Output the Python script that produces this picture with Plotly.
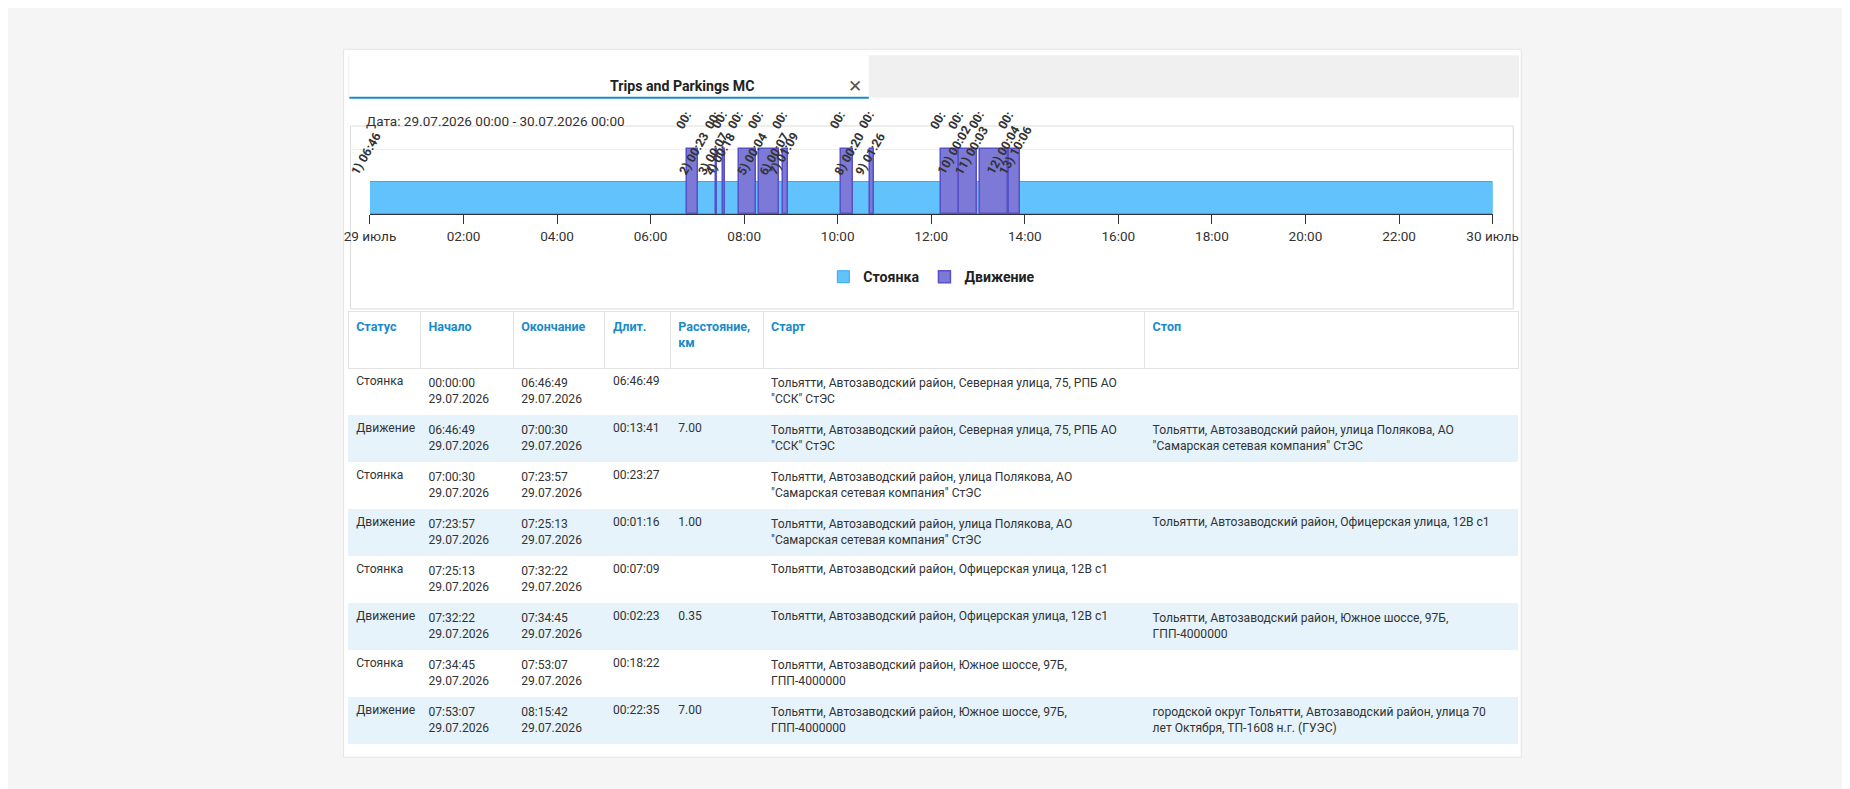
import plotly.graph_objects as go

W, H = 1850, 789
K = 1850 / 1568
def px(x): return x * K / W
def py(y): return 1 - y * K / H
def fs(s): return s * K

def hm(s):
    p = [int(v) for v in s.split(":")]
    return p[0] + p[1] / 60 + (p[2] if len(p) > 2 else 0) / 3600

drive_start = ["06:46:49", "07:23:57", "07:32:22", "07:53:07", "08:19", "08:50", "10:04", "10:41", "12:13", "12:36", "13:02", "13:40"]
drive_end = ["07:00:30", "07:25:13", "07:34:45", "08:15:42", "08:44", "08:56", "10:20", "10:47", "12:35", "12:58", "13:38", "13:54"]
park_labels = ["1) 06:46", "2) 00:23", "3) 00:07", "4) 00:18", "5) 00:04", "6) 00:07", "7) 01:09",
               "8) 00:20", "9) 01:26", "10) 00:02", "11) 00:03", "12) 00:04", "13) 10:06"]
tick_vals = [0, 2, 4, 6, 8, 10, 12, 14, 16, 18, 20, 22, 24]
tick_text = ["29 июль", "02:00", "04:00", "06:00", "08:00", "10:00", "12:00", "14:00",
             "16:00", "18:00", "20:00", "22:00", "30 июль"]

ds = [hm(s) for s in drive_start]
de = [hm(s) for s in drive_end]
ps = [0.0] + de
pe = ds + [24.0]

fig = go.Figure()
fig.add_trace(go.Bar(x=[(a + b) / 2 for a, b in zip(ps, pe)], y=[1] * len(ps),
                     width=[b - a for a, b in zip(ps, pe)], name="Стоянка",
                     marker=dict(color="#62c2fc", line=dict(color="#37a9f5", width=1)),
                     xaxis="x", yaxis="y", hoverinfo="skip"))
fig.add_trace(go.Bar(x=[(a + b) / 2 for a, b in zip(ds, de)], y=[2] * len(ds),
                     width=[b - a for a, b in zip(ds, de)], name="Движение",
                     marker=dict(color="#7d79d6", line=dict(color="#5850c9", width=1.5)),
                     xaxis="x", yaxis="y", hoverinfo="skip"))

status = ["Стоянка", "Движение"] * 4
start = ["00:00:00<br>29.07.2026", "06:46:49<br>29.07.2026", "07:00:30<br>29.07.2026", "07:23:57<br>29.07.2026",
         "07:25:13<br>29.07.2026", "07:32:22<br>29.07.2026", "07:34:45<br>29.07.2026", "07:53:07<br>29.07.2026"]
end = ["06:46:49<br>29.07.2026", "07:00:30<br>29.07.2026", "07:23:57<br>29.07.2026", "07:25:13<br>29.07.2026",
       "07:32:22<br>29.07.2026", "07:34:45<br>29.07.2026", "07:53:07<br>29.07.2026", "08:15:42<br>29.07.2026"]
dur = ["06:46:49", "00:13:41", "00:23:27", "00:01:16", "00:07:09", "00:02:23", "00:18:22", "00:22:35"]
dist = ["", "7.00", "", "1.00", "", "0.35", "", "7.00"]
start_addr = ["Тольятти, Автозаводский район, Северная улица, 75, РПБ АО \"ССК\" СтЭС",
              "Тольятти, Автозаводский район, Северная улица, 75, РПБ АО<br>\"ССК\" СтЭС",
              "Тольятти, Автозаводский район, улица Полякова, АО \"Самарская сетевая компания\" СтЭС",
              "Тольятти, Автозаводский район, улица Полякова, АО<br>\"Самарская сетевая компания\" СтЭС",
              "Тольятти, Автозаводский район, Офицерская улица, 12В с1",
              "Тольятти, Автозаводский район, Офицерская улица, 12В с1",
              "Тольятти, Автозаводский район, Южное шоссе, 97Б, ГПП-4000000",
              "Тольятти, Автозаводский район, Южное шоссе, 97Б,<br>ГПП-4000000"]
stop_addr = ["", "Тольятти, Автозаводский район, улица Полякова, АО<br>\"Самарская сетевая компания\" СтЭС", "",
             "Тольятти, Автозаводский район, Офицерская улица, 12В с1", "",
             "Тольятти, Автозаводский район, Южное шоссе, 97Б,<br>ГПП-4000000", "",
             "городской округ Тольятти, Автозаводский район, улица 70<br>лет Октября, ТП-1608 н.г. (ГУЭС)"]
headers = ["Статус", "Начало", "Окончание", "Длит.", "Расстояние,<br>км", "Старт", "Стоп"]

fills = ["#ffffff" if i % 2 == 0 else "#e6f3fb" for i in range(8)]
fig.add_trace(go.Table(
    domain=dict(x=[px(274), px(1295)], y=[py(632), py(257)]),
    columnwidth=[63, 81, 80, 57, 81, 333, 326],
    header=dict(values=["<b>%s</b>" % h for h in headers], height=57, align="left",
                fill_color="white", line_color="#e3e3e3",
                font=dict(family="Roboto", size=12.5, color="#1a8acb")),
    cells=dict(values=[status, start, end, dur, dist, start_addr, stop_addr], height=47, align="left",
               fill_color=[fills] * 7, line_color="rgba(0,0,0,0)",
               font=dict(family="Roboto", size=12.1, color="#333"))))

shapes = [
    dict(type="rect", xref="paper", yref="paper", x0=px(270), x1=px(1297), y0=py(635), y1=py(35),
         fillcolor="white", line=dict(color="#e4e4e4", width=1), layer="below"),
    dict(type="rect", xref="paper", yref="paper", x0=px(274), x1=px(1295), y0=py(76), y1=py(40),
         fillcolor="#f0f0f0", line=dict(width=0), layer="below"),
    dict(type="rect", xref="paper", yref="paper", x0=px(275), x1=px(728), y0=py(76), y1=py(40),
         fillcolor="white", line=dict(width=0), layer="below"),
    dict(type="line", xref="paper", yref="paper", x0=px(275), x1=px(728), y0=py(76), y1=py(76),
         line=dict(color="#1a8acb", width=2)),
    dict(type="rect", xref="paper", yref="paper", x0=px(276), x1=px(1290), y0=py(255), y1=py(100),
         fillcolor="rgba(0,0,0,0)", line=dict(color="#dcdcdc", width=1), layer="below"),
    dict(type="line", xref="paper", yref="paper", x0=px(276), x1=px(1290), y0=py(120), y1=py(120),
         line=dict(color="#eeeeee", width=1), layer="below"),
]

ann = [
    dict(text="<b>Trips and Parkings MC</b>", x=px(501), y=py(58), font=dict(size=fs(12), color="#222")),
    dict(text="✕", x=px(716), y=py(57), font=dict(size=fs(14), color="#555")),
    dict(text="Дата: 29.07.2026 00:00 - 30.07.2026 00:00", x=px(288), y=py(87), xanchor="left",
         font=dict(size=fs(11.5), color="#333")),
]
for a in ann:
    a.update(xref="paper", yref="paper", showarrow=False)
    a["font"]["family"] = "Roboto"

for s, lab in zip(ps, park_labels):
    ann.append(dict(x=s, y=1.05, xref="x", yref="y", text="<b>%s</b>" % lab, textangle=-60,
                    showarrow=False, xanchor="center", yanchor="bottom", xshift=-4,
                    font=dict(family="Roboto", size=fs(10.5), color="#333")))
for s in ds:
    ann.append(dict(x=s, y=2.45, xref="x", yref="y", text="<b>00:</b>", textangle=-60,
                    showarrow=False, xanchor="center", yanchor="bottom", xshift=-3,
                    font=dict(family="Roboto", size=fs(10.5), color="#333")))

fig.update_layout(
    width=W, height=H, margin=dict(l=0, r=0, t=0, b=0),
    paper_bgcolor="#f5f5f5", plot_bgcolor="rgba(0,0,0,0)",
    barmode="overlay", bargap=0,
    shapes=shapes, annotations=ann,
    xaxis=dict(domain=[px(293), px(1272)], range=[0, 24], tickvals=tick_vals, ticktext=tick_text,
               ticks="outside", ticklen=9, tickcolor="#333", showline=True, linecolor="#333",
               showgrid=False, zeroline=False, anchor="y",
               tickfont=dict(family="Roboto", size=fs(11.5), color="#333")),
    yaxis=dict(domain=[py(175), py(100)], range=[0, 2.7], visible=False, fixedrange=True),
    legend=dict(orientation="h", x=px(783), xanchor="center", y=py(228), yanchor="middle",
                font=dict(family="Roboto", size=fs(12), color="#222", weight="bold"), bgcolor="rgba(0,0,0,0)"),
    font=dict(family="Roboto"),
)
fig.write_html("out.html")
